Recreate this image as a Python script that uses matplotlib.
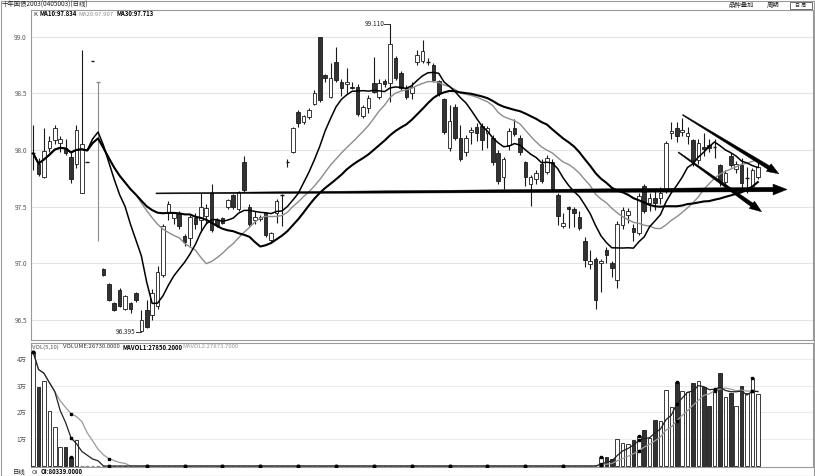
"""
Daily K-line chart of 十年国债2003 with MA10/20/30, volume panel and trend arrows.
"""

import numpy as np
import pandas as pd
import matplotlib
matplotlib.use("Agg")
import matplotlib.pyplot as plt
from matplotlib.patches import Rectangle, Polygon
from matplotlib.transforms import IdentityTransform

plt.rcParams["font.family"] = ["Noto Sans CJK SC", "DejaVu Sans"]

# ── Data ────────────────────────────────────────────────────────────────────
opens = [
    97.97, 97.88, 97.76, 98.02, 98.09, 98.06, 98.02, 97.94, 97.88, 97.62,
    97.89, 98.79, 98.60, 96.95, 96.82, 96.65, 96.76, 96.60, 96.65, 96.74,
    96.40, 96.59, 96.54, 96.62, 96.90, 97.44, 97.40, 97.44, 97.24, 97.22,
    97.40, 97.38, 97.42, 97.62, 97.38, 97.40, 97.50, 97.60, 97.48, 97.89,
    97.50, 97.38, 97.39, 97.44, 97.21, 97.44, 97.60, 97.89, 97.98, 98.34,
    98.25, 98.29, 98.41, 99.00, 98.66, 98.47, 98.78, 98.60, 98.58, 98.56,
    98.56, 98.30, 98.37, 98.59, 98.47, 98.61, 98.59, 98.81, 98.68, 98.55,
    98.50, 98.78, 98.79, 98.78, 98.75, 98.61, 98.45, 98.02, 98.38, 98.11,
    97.98, 98.16, 98.20, 98.21, 98.15, 98.11, 97.97, 97.76, 98.04, 98.19,
    98.11, 97.89, 97.70, 97.74, 97.88, 97.81, 97.89, 97.60, 97.33, 97.50,
    97.48, 97.41, 97.20, 96.99, 97.04, 97.00, 97.12, 97.00, 96.85, 97.34,
    97.43, 97.31, 97.27, 97.68, 97.53, 97.58, 97.58, 97.66, 98.15, 98.19,
    98.16, 98.12, 98.09, 97.91, 98.03, 98.04, 98.03, 97.87, 97.72, 97.95,
    97.83, 97.87, 97.75, 97.68, 97.76,
]
highs = [
    98.22, 97.93, 98.19, 98.12, 98.22, 98.12, 98.10, 97.98, 98.22, 98.88,
    97.89, 98.79, 98.60, 96.96, 96.83, 96.66, 96.78, 96.72, 96.66, 96.75,
    96.59, 96.68, 96.77, 96.98, 97.35, 97.55, 97.45, 97.46, 97.26, 97.43,
    97.44, 97.62, 97.52, 97.70, 97.40, 97.41, 97.57, 97.61, 97.64, 97.95,
    97.52, 97.46, 97.43, 97.45, 97.28, 97.57, 97.61, 97.92, 98.20, 98.35,
    98.31, 98.37, 98.53, 99.00, 98.67, 98.77, 98.91, 98.63, 98.72, 98.60,
    98.58, 98.40, 98.49, 98.82, 98.63, 98.63, 99.11, 98.83, 98.70, 98.57,
    98.60, 98.88, 98.97, 98.81, 98.77, 98.62, 98.46, 98.40, 98.41, 98.22,
    98.13, 98.20, 98.24, 98.24, 98.21, 98.13, 98.00, 97.94, 98.19, 98.27,
    98.13, 97.90, 97.78, 97.82, 97.92, 97.96, 97.92, 97.62, 97.44, 97.51,
    97.50, 97.46, 97.23, 97.12, 97.06, 97.04, 97.14, 97.02, 97.37, 97.50,
    97.49, 97.35, 97.62, 97.70, 97.62, 97.66, 97.67, 98.08, 98.25, 98.25,
    98.28, 98.20, 98.10, 98.10, 98.15, 98.10, 98.10, 97.88, 97.82, 97.97,
    97.90, 97.93, 97.85, 97.84, 97.90,
]
lows = [
    97.82, 97.77, 97.75, 97.98, 98.05, 97.98, 97.96, 97.71, 97.84, 97.62,
    97.89, 98.79, 97.20, 96.89, 96.67, 96.58, 96.61, 96.59, 96.56, 96.66,
    96.395, 96.43, 96.50, 96.60, 96.88, 97.38, 97.35, 97.30, 97.15, 97.15,
    97.30, 97.28, 97.35, 97.28, 97.32, 97.35, 97.48, 97.48, 97.46, 97.63,
    97.33, 97.35, 97.37, 97.23, 97.19, 97.36, 97.33, 97.85, 97.97, 98.20,
    98.23, 98.27, 98.40, 98.42, 98.60, 98.46, 98.60, 98.48, 98.50, 98.54,
    98.30, 98.28, 98.33, 98.50, 98.45, 98.56, 98.42, 98.62, 98.53, 98.45,
    98.45, 98.75, 98.77, 98.75, 98.60, 98.48, 98.14, 97.99, 98.09, 97.90,
    97.95, 98.05, 98.08, 98.00, 98.02, 97.87, 97.70, 97.66, 98.00, 98.12,
    97.96, 97.68, 97.51, 97.70, 97.71, 97.79, 97.64, 97.34, 97.31, 97.31,
    97.32, 97.29, 96.97, 96.95, 96.60, 96.75, 97.00, 96.88, 96.78, 97.30,
    97.36, 97.20, 97.25, 97.44, 97.46, 97.47, 97.52, 97.62, 98.10, 98.07,
    98.12, 98.05, 97.86, 97.88, 97.95, 97.98, 97.93, 97.68, 97.70, 97.85,
    97.80, 97.66, 97.62, 97.64, 97.74,
]
closes = [
    97.97, 97.79, 97.99, 98.08, 98.19, 98.10, 97.97, 97.74, 98.18, 98.05,
    97.89, 98.79, 98.60, 96.90, 96.68, 96.59, 96.62, 96.71, 96.60, 96.68,
    96.50, 96.44, 96.74, 96.92, 97.33, 97.52, 97.44, 97.33, 97.19, 97.41,
    97.35, 97.50, 97.49, 97.29, 97.34, 97.36, 97.56, 97.50, 97.63, 97.65,
    97.35, 97.41, 97.41, 97.25, 97.27, 97.55, 97.60, 97.89, 98.19, 98.24,
    98.30, 98.35, 98.50, 98.44, 98.64, 98.64, 98.62, 98.55, 98.60, 98.55,
    98.32, 98.38, 98.46, 98.51, 98.59, 98.58, 98.94, 98.64, 98.55, 98.47,
    98.56, 98.84, 98.87, 98.78, 98.62, 98.50, 98.16, 98.26, 98.11, 97.92,
    98.11, 98.18, 98.15, 98.09, 98.19, 97.89, 97.73, 97.92, 98.17, 98.14,
    97.98, 97.76, 97.76, 97.80, 97.73, 97.93, 97.66, 97.42, 97.36, 97.48,
    97.44, 97.31, 97.03, 97.02, 96.68, 97.02, 97.07, 96.96, 97.35, 97.47,
    97.46, 97.28, 97.59, 97.46, 97.58, 97.53, 97.62, 98.06, 98.17, 98.12,
    98.18, 98.15, 97.91, 98.06, 98.01, 98.02, 98.03, 97.73, 97.80, 97.87,
    97.88, 97.71, 97.75, 97.82, 97.85,
]
volumes = [
    42500, 29500, 31800, 20600, 14500, 7100, 7100, 3300, 9700, 0,
    0, 0, 0, 0, 0, 0, 0, 0, 0, 0,
    0, 0, 0, 0, 0, 0, 0, 0, 0, 0,
    0, 0, 0, 0, 0, 0, 0, 0, 0, 0,
    0, 0, 0, 0, 0, 0, 0, 0, 0, 0,
    0, 0, 0, 0, 0, 0, 0, 0, 0, 0,
    0, 0, 0, 0, 0, 0, 0, 0, 0, 0,
    0, 0, 0, 0, 0, 0, 0, 0, 0, 0,
    0, 0, 0, 0, 0, 0, 0, 0, 0, 0,
    0, 0, 0, 0, 0, 0, 0, 0, 0, 0,
    0, 0, 0, 0, 0, 3500, 3400, 2600, 10000, 8600,
    8200, 9700, 11200, 13400, 10400, 17200, 16800, 28400, 22000, 31300,
    28100, 27700, 31000, 31800, 29500, 22500, 28400, 34700, 25800, 27200,
    22400, 29900, 27200, 32800, 26730,
]

price_ticks = [96.5, 97.0, 97.5, 98.0, 98.5, 99.0]
vol_ticks = [10000, 20000, 30000, 40000]
vol_tick_labels = ["1万", "2万", "3万", "4万"]
grey_bars = [12]          # drawn in grey in the original terminal

# values shown in the indicator headers of the terminal
MA_LABELS = ["MA10:97.834", "MA20:97.907", "MA30:97.713"]
VOL_LABELS = ["VOLUME:26730.0000", "MAVOL1:27850.2000", "MAVOL2:27873.7000"]
OI_LABEL = "OI:80339.0000"

W, H = 815, 476
UP_FACE, DOWN_FACE, EDGE = "white", "#333333", "#1a1a1a"

df = pd.DataFrame({"open": opens, "high": highs, "low": lows,
                   "close": closes, "vol": volumes})
idx = np.arange(len(df))
df["ma10"] = df["close"].rolling(10, min_periods=1).mean()
df["ma20"] = df["close"].rolling(20, min_periods=1).mean()
df["ma30"] = df["close"].rolling(30, min_periods=1).mean()
df["mavol5"] = df["vol"].rolling(5, min_periods=1).mean()
df["mavol10"] = df["vol"].rolling(10, min_periods=1).mean()

fig = plt.figure(figsize=(W / 100, H / 100), dpi=100)


def px_axes(l, t, r, b):
    return fig.add_axes([l / W, 1 - b / H, (r - l) / W, (b - t) / H])


def ftext(x, y, s, **kw):
    kw.setdefault("va", "center")
    kw.setdefault("fontsize", 4.3)
    fig.text(x / W, 1 - y / H, s, **kw)


ax = px_axes(31, 10, 813, 340)
axv = px_axes(31, 343, 813, 467)

for a in (ax, axv):
    a.set_xlim(-0.4, 144.2)
    a.set_xticks([])
    for s in a.spines.values():
        s.set_color("#9a9a9a")
        s.set_linewidth(0.8)
    a.tick_params(axis="y", length=0, labelsize=4.6, colors="#555555", pad=3)

# ── Price panel ─────────────────────────────────────────────────────────────
ax.set_ylim(96.323, 99.236)
ax.set_yticks(price_ticks)
ax.set_yticklabels([f"{t:.1f}" for t in price_ticks])
ax.grid(axis="y", color="#e4e4e4", lw=0.8)
ax.set_axisbelow(True)

bw = 0.66
for i, r in df.iterrows():
    col = "#8a8a8a" if i in grey_bars else EDGE
    ax.vlines(i, r["low"], r["high"], color=col, lw=0.8, zorder=2)
    lo, hi = min(r["open"], r["close"]), max(r["open"], r["close"])
    if hi - lo < 0.006:
        ax.hlines(r["close"], i - bw / 2, i + bw / 2, color=col, lw=1.0, zorder=3)
        continue
    face = UP_FACE if r["close"] >= r["open"] else DOWN_FACE
    ax.add_patch(Rectangle((i - bw / 2, lo), bw, hi - lo, facecolor=face,
                           edgecolor=EDGE, lw=0.6, zorder=3))

ax.plot(idx, df["ma20"], color="#8c8c8c", lw=1.0, zorder=4)
ax.plot(idx, df["ma10"], color="black", lw=1.1, zorder=4)
ax.plot(idx, df["ma30"], color="black", lw=1.5, zorder=4)

# high / low labels
hi_i = int(df["high"].idxmax())
lo_i = int(df["low"].idxmin())
ax.plot([hi_i - 1.05, hi_i], [df["high"][hi_i]] * 2, color="#333", lw=0.7)
ax.text(hi_i - 1.1, df["high"][hi_i], f"{df['high'][hi_i]:.3f}", ha="right",
        va="center", fontsize=4.6, color="#222")
ax.plot([lo_i - 1.0, lo_i], [df["low"][lo_i]] * 2, color="#333", lw=0.7)
ax.text(lo_i - 1.05, df["low"][lo_i], f"{df['low'][lo_i]:.3f}", ha="right",
        va="center", fontsize=4.6, color="#222")


def taper_arrow(a, p0, p1, w0, w1, head_len, head_w):
    fig.canvas.draw()
    q0 = a.transData.transform(p0)
    q1 = a.transData.transform(p1)
    d = q1 - q0
    u = d / np.hypot(*d)
    n = np.array([-u[1], u[0]])
    base = q1 - u * head_len
    pts = [q0 + n * w0 / 2, base + n * w1 / 2, base + n * head_w / 2, q1,
           base - n * head_w / 2, base - n * w1 / 2, q0 - n * w0 / 2]
    fig.patches.append(Polygon(pts, closed=True, transform=IdentityTransform(),
                               facecolor="black", edgecolor="black", lw=0.3,
                               figure=fig))


# trend annotations
taper_arrow(ax, (22.7, 97.617), (139.4, 97.652), 1.0, 4.5, 14, 11)
taper_arrow(ax, (120.1, 98.31), (137.9, 97.79), 1.0, 4.0, 12, 9)
taper_arrow(ax, (119.3, 97.98), (134.7, 97.455), 1.0, 4.0, 12, 9)

# ── Volume panel ────────────────────────────────────────────────────────────
axv.set_ylim(-370, 45900)
axv.set_yticks(vol_ticks)
axv.set_yticklabels(vol_tick_labels)
axv.grid(axis="y", color="#ececec", lw=0.8)
axv.set_axisbelow(True)

up = df["close"] >= df["open"]
for i, r in df.iterrows():
    if r["vol"] <= 0:
        axv.hlines(0, i - bw / 2, i + bw / 2, color="#8a8a8a", lw=0.9, zorder=2)
        continue
    face = UP_FACE if up[i] else DOWN_FACE
    axv.bar(i, r["vol"], width=bw, color=face, edgecolor=EDGE, lw=0.6, zorder=3)

axv.plot(idx, df["mavol10"], color="#9a9a9a", lw=0.9, zorder=4)
axv.plot(idx, df["mavol5"], color="#222222", lw=0.9, zorder=4)
mk = idx[::7]
for col in ("vol", "mavol5", "mavol10"):
    axv.plot(mk, df[col].values[::7], "s", ms=2.0, color="black", zorder=5)

# ── Header / footer texts ───────────────────────────────────────────────────
ftext(2, 5, "十年国债2003(0405003)(日线)", fontsize=4.6, color="#222")
ftext(728, 5, "品种叠加", fontsize=4.6, color="#222")
ftext(767, 5, "周期", fontsize=4.6, color="#222")
fig.add_artist(Rectangle((790 / W, 1 - 9 / H), 22 / W, 7 / H,
                         transform=fig.transFigure, fill=False,
                         edgecolor="#555", lw=0.6))
ftext(801, 5.5, "日 周", fontsize=3.6, color="#333", ha="center")

ftext(33, 14, "K", color="#222")
ftext(40, 14, MA_LABELS[0], color="black", weight="bold")
ftext(78, 14, MA_LABELS[1], color="#8c8c8c")
ftext(116, 14, MA_LABELS[2], color="black", weight="bold")

ftext(32, 347, "VOL(5,10)", color="#555")
ftext(63, 347, VOL_LABELS[0], color="#333")
ftext(123, 347, VOL_LABELS[1], color="black", weight="bold")
ftext(182, 347, VOL_LABELS[2], color="#9a9a9a")

ftext(13, 472, "日线", fontsize=4.6, color="#222")
ftext(32, 472, "OI", color="#333")
ftext(41, 472, OI_LABEL, color="black", weight="bold")

fig.add_artist(Rectangle((0.5 / W, 0.5 / H), (W - 1.5) / W, (H - 1.5) / H,
                         transform=fig.transFigure, fill=False,
                         edgecolor="#9a9a9a", lw=0.8))

fig.savefig("out.png", dpi=100)
